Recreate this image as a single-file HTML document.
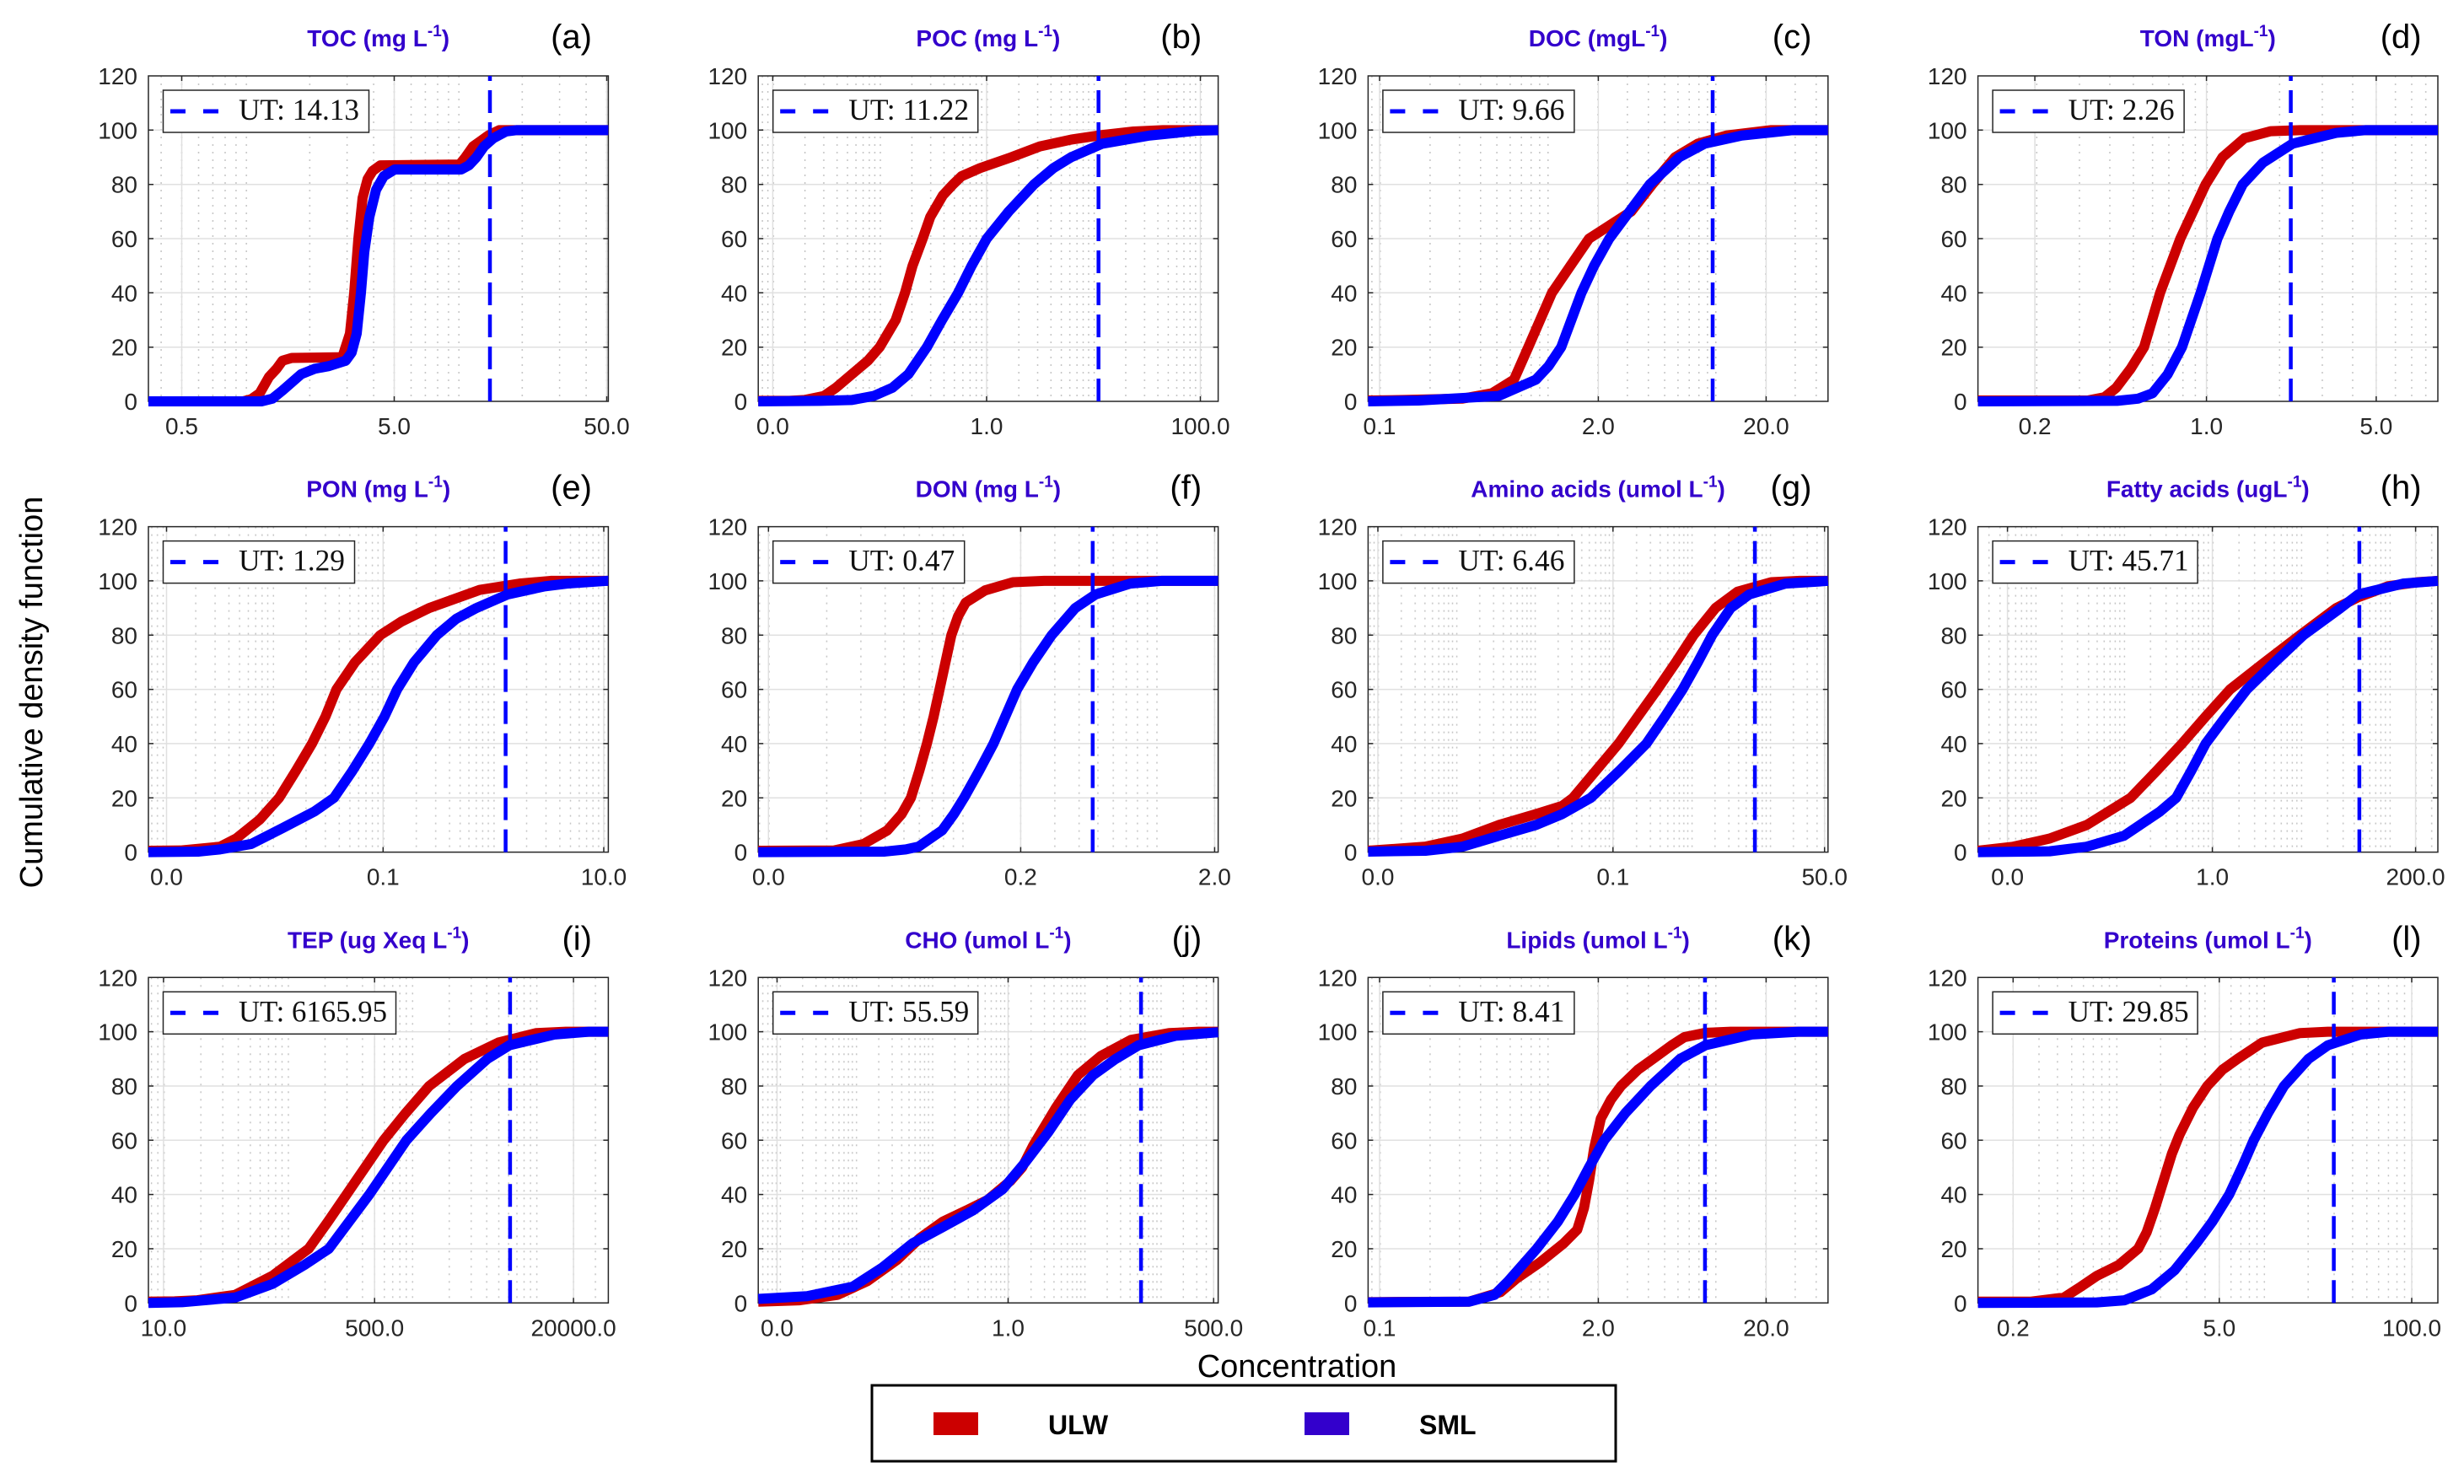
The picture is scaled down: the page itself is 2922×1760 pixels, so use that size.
<!DOCTYPE html>
<html><head><meta charset="utf-8"><style>
html,body{margin:0;padding:0;background:#fff;}
svg{display:block;}
.tk{font-family:"Liberation Sans",sans-serif;font-size:28px;fill:#262626;}
.ti{font-family:"Liberation Sans",sans-serif;font-size:28px;font-weight:bold;fill:#3300cc;}
.sp{font-size:19px;}
.pl{font-family:"Liberation Sans",sans-serif;font-size:40px;fill:#000;}
.uttx{font-family:"Liberation Serif",serif;font-size:36px;fill:#111;}
.mg{stroke:#e0e0e0;stroke-width:1.5;fill:none;}
.ax{stroke:#262626;stroke-width:1.5;fill:none;}
.r{fill:none;stroke:#cc0000;stroke-width:12;stroke-linejoin:round;stroke-linecap:butt;}
.b{fill:none;stroke:#0000ff;stroke-width:12;stroke-linejoin:round;stroke-linecap:butt;}
.ut{stroke:#0000ff;stroke-width:4.5;stroke-dasharray:27 11;stroke-dashoffset:21;}
.lg{fill:#fff;stroke:#262626;stroke-width:1.5;}
.ld{stroke:#0000ff;stroke-width:5;stroke-dasharray:18 21;}
.dt{stroke:#c4c4c4;stroke-width:1.5;stroke-dasharray:2 7;fill:none;}
.big{font-family:"Liberation Sans",sans-serif;font-size:38px;fill:#000;}
.lgt{font-family:"Liberation Sans",sans-serif;font-size:32px;font-weight:bold;fill:#000;}
</style></head><body>
<svg width="2922" height="1760" viewBox="0 0 2922 1760" xmlns="http://www.w3.org/2000/svg">
<defs>
<pattern id="ga" patternUnits="userSpaceOnUse" x="115.4" y="0" width="252" height="386"><path class="dt" d="M0.8 0V386M75.9 0V386M120.2 0V386M151.7 0V386M176.1 0V386M196.1 0V386M213 0V386M227.6 0V386M240.5 0V386"/></pattern>
<pattern id="gb" patternUnits="userSpaceOnUse" x="270.8" y="0" width="126.8" height="386"><path class="dt" d="M0.8 0V386M38.2 0V386M60.5 0V386M76.3 0V386M88.6 0V386M98.7 0V386M107.2 0V386M114.5 0V386M121 0V386"/></pattern>
<pattern id="gc" patternUnits="userSpaceOnUse" x="212.6" y="0" width="199" height="386"><path class="dt" d="M0.8 0V386M59.9 0V386M94.9 0V386M119.8 0V386M139.1 0V386M154.9 0V386M168.2 0V386M179.7 0V386M189.9 0V386"/></pattern>
<pattern id="gd" patternUnits="userSpaceOnUse" x="271" y="0" width="288" height="386"><path class="dt" d="M0.8 0V386M86.7 0V386M137.4 0V386M173.4 0V386M201.3 0V386M224.1 0V386M243.4 0V386M260.1 0V386M274.8 0V386"/></pattern>
<pattern id="ge" patternUnits="userSpaceOnUse" x="278.3" y="0" width="130.8" height="386"><path class="dt" d="M0.8 0V386M39.4 0V386M62.4 0V386M78.8 0V386M91.4 0V386M101.8 0V386M110.5 0V386M118.1 0V386M124.8 0V386"/></pattern>
<pattern id="gf" patternUnits="userSpaceOnUse" x="472" y="0" width="230" height="386"><path class="dt" d="M0.8 0V386M69.2 0V386M109.7 0V386M138.5 0V386M160.8 0V386M179 0V386M194.4 0V386M207.7 0V386M219.5 0V386"/></pattern>
<pattern id="gg" patternUnits="userSpaceOnUse" x="290.4" y="0" width="93" height="386"><path class="dt" d="M0.8 0V386M28 0V386M44.4 0V386M56 0V386M65 0V386M72.4 0V386M78.6 0V386M84 0V386M88.7 0V386"/></pattern>
<pattern id="gh" patternUnits="userSpaceOnUse" x="278" y="0" width="105" height="386"><path class="dt" d="M0.8 0V386M31.6 0V386M50.1 0V386M63.2 0V386M73.4 0V386M81.7 0V386M88.7 0V386M94.8 0V386M100.2 0V386"/></pattern>
<pattern id="gi" patternUnits="userSpaceOnUse" x="17.9" y="0" width="147.3" height="386"><path class="dt" d="M0.8 0V386M44.3 0V386M70.3 0V386M88.7 0V386M103 0V386M114.6 0V386M124.5 0V386M133 0V386M140.6 0V386"/></pattern>
<pattern id="gj" patternUnits="userSpaceOnUse" x="296.3" y="0" width="90.3" height="386"><path class="dt" d="M0.8 0V386M27.2 0V386M43.1 0V386M54.4 0V386M63.1 0V386M70.3 0V386M76.3 0V386M81.5 0V386M86.2 0V386"/></pattern>
<pattern id="gl" patternUnits="userSpaceOnUse" x="163.9" y="0" width="175" height="386"><path class="dt" d="M0.8 0V386M52.7 0V386M83.5 0V386M105.4 0V386M122.3 0V386M136.2 0V386M147.9 0V386M158 0V386M167 0V386"/></pattern>
</defs>
<rect width="2922" height="1760" fill="#fff"/>

<!-- ============ (a) ============ -->
<g transform="translate(176,90)">
<rect width="545.4" height="386" fill="url(#ga)"/>
<path class="mg" d="M39.5 0V386M291.5 0V386M543.5 0V386M0 321.7H545.4M0 257.3H545.4M0 193H545.4M0 128.7H545.4M0 64.3H545.4"/>
<path class="ax" d="M0 0H545.4V386H0Z M0 321.7h6M0 257.3h6M0 193h6M0 128.7h6M0 64.3h6M545.4 321.7h-6M545.4 257.3h-6M545.4 193h-6M545.4 128.7h-6M545.4 64.3h-6M39.5 386v-6M291.5 386v-6M543.5 386v-6M39.5 0v6M291.5 0v6M543.5 0v6"/>
<g transform="translate(0,386) scale(1,-3.2167)">
<polyline class="r" vector-effect="non-scaling-stroke" points="0,0 112,0 122,0.8 132,3 143,9 152,12 159,15 170,16 230,16.3 239,25 244,40 249,60 254,75 260,82 266,85 275,87 369,87.3 376,90 385,94 394,96 403,98 416,100 545.4,100"/>
<polyline class="b" vector-effect="non-scaling-stroke" points="0,0 134,0 147,1 159,4 170,7 181,10 197,12 214,13 234,15 241,18 247,25 252,40 256,55 262,68 270,78 279,83 292,85.5 371,85.5 380,87 389,90 398,94 409,97 424,99.5 437,100 545.4,100"/>
</g>
<line class="ut" x1="405" y1="0" x2="405" y2="386"/>
<rect class="lg" x="17.5" y="17" width="244" height="50"/>
<line class="ld" x1="26" y1="42" x2="83" y2="42"/>
<text class="uttx" x="107" y="52" textLength="143" lengthAdjust="spacingAndGlyphs">UT: 14.13</text>
<text class="ti" x="272.7" y="-35" text-anchor="middle">TOC (mg L<tspan class="sp" dy="-12">-1</tspan><tspan dy="12">)</tspan></text>
<text class="pl" x="526" y="-33" text-anchor="end">(a)</text>
<g class="tk" text-anchor="end"><text x="-13" y="396">0</text><text x="-13" y="331.7">20</text><text x="-13" y="267.3">40</text><text x="-13" y="203">60</text><text x="-13" y="138.7">80</text><text x="-13" y="74.3">100</text><text x="-13" y="10">120</text></g>
<g class="tk" text-anchor="middle"><text x="39.5" y="425">0.5</text><text x="291.5" y="425">5.0</text><text x="543.5" y="425">50.0</text></g>
</g>

<!-- ============ (b) ============ -->
<g transform="translate(899.2,90)">
<rect width="545.4" height="386" fill="url(#gb)"/>
<path class="mg" d="M17.2 0V386M270.8 0V386M524.3 0V386M0 321.7H545.4M0 257.3H545.4M0 193H545.4M0 128.7H545.4M0 64.3H545.4"/>
<path class="ax" d="M0 0H545.4V386H0Z M0 321.7h6M0 257.3h6M0 193h6M0 128.7h6M0 64.3h6M545.4 321.7h-6M545.4 257.3h-6M545.4 193h-6M545.4 128.7h-6M545.4 64.3h-6M17.2 386v-6M270.8 386v-6M524.3 386v-6M17.2 0v6M270.8 0v6M524.3 0v6"/>
<g transform="translate(0,386) scale(1,-3.2167)">
<polyline class="r" vector-effect="non-scaling-stroke" points="0,0.2 37,0.2 55,0.5 78,2 92,5 111,10 130,15 144,20 163,30 174,40 183,50 195,60 204,68 219,76 231,80 241,83 263,86 300,90 334,94 371,96.5 403,98 445,99.5 480,100 545.4,100"/>
<polyline class="b" vector-effect="non-scaling-stroke" points="0,0 74,0.2 111,0.5 137,2 159,5 178,10 200,20 218,30 237,40 253,50 271,60 297,70 327,80 350,86 371,90 408,95 464,98 520,99.8 545.4,100"/>
</g>
<line class="ut" x1="403.5" y1="0" x2="403.5" y2="386"/>
<rect class="lg" x="17.5" y="17" width="243" height="50"/>
<line class="ld" x1="26" y1="42" x2="83" y2="42"/>
<text class="uttx" x="107" y="52" textLength="143" lengthAdjust="spacingAndGlyphs">UT: 11.22</text>
<text class="ti" x="272.7" y="-35" text-anchor="middle">POC (mg L<tspan class="sp" dy="-12">-1</tspan><tspan dy="12">)</tspan></text>
<text class="pl" x="526" y="-33" text-anchor="end">(b)</text>
<g class="tk" text-anchor="end"><text x="-13" y="396">0</text><text x="-13" y="331.7">20</text><text x="-13" y="267.3">40</text><text x="-13" y="203">60</text><text x="-13" y="138.7">80</text><text x="-13" y="74.3">100</text><text x="-13" y="10">120</text></g>
<g class="tk" text-anchor="middle"><text x="17.2" y="425">0.0</text><text x="270.8" y="425">1.0</text><text x="524.3" y="425">100.0</text></g>
</g>

<!-- ============ (c) ============ -->
<g transform="translate(1622.4,90)">
<rect width="545.4" height="386" fill="url(#gc)"/>
<path class="mg" d="M13.6 0V386M273 0V386M472 0V386M0 321.7H545.4M0 257.3H545.4M0 193H545.4M0 128.7H545.4M0 64.3H545.4"/>
<path class="ax" d="M0 0H545.4V386H0Z M0 321.7h6M0 257.3h6M0 193h6M0 128.7h6M0 64.3h6M545.4 321.7h-6M545.4 257.3h-6M545.4 193h-6M545.4 128.7h-6M545.4 64.3h-6M13.6 386v-6M273 386v-6M472 386v-6M13.6 0v6M273 0v6M472 0v6"/>
<g transform="translate(0,386) scale(1,-3.2167)">
<polyline class="r" vector-effect="non-scaling-stroke" points="0,0.3 42,0.5 112,1 147,3 173,8 190,20 204,30 218,40 240,50 262,60 282,64 312,70 337,80 364,90 391,95 425,98 478,100 545.4,100"/>
<polyline class="b" vector-effect="non-scaling-stroke" points="0,0 60,0.3 155,2 199,8 214,13 229,20 241,30 253,40 268,50 286,60 310,70 334,80 369,90 399,95 443,98 504,100 545.4,100"/>
</g>
<line class="ut" x1="408.6" y1="0" x2="408.6" y2="386"/>
<rect class="lg" x="17.5" y="17" width="227" height="50"/>
<line class="ld" x1="26" y1="42" x2="83" y2="42"/>
<text class="uttx" x="107" y="52" textLength="126" lengthAdjust="spacingAndGlyphs">UT: 9.66</text>
<text class="ti" x="272.7" y="-35" text-anchor="middle">DOC (mgL<tspan class="sp" dy="-12">-1</tspan><tspan dy="12">)</tspan></text>
<text class="pl" x="526" y="-33" text-anchor="end">(c)</text>
<g class="tk" text-anchor="end"><text x="-13" y="396">0</text><text x="-13" y="331.7">20</text><text x="-13" y="267.3">40</text><text x="-13" y="203">60</text><text x="-13" y="138.7">80</text><text x="-13" y="74.3">100</text><text x="-13" y="10">120</text></g>
<g class="tk" text-anchor="middle"><text x="13.6" y="425">0.1</text><text x="273" y="425">2.0</text><text x="472" y="425">20.0</text></g>
</g>

<!-- ============ (d) ============ -->
<g transform="translate(2345.6,90)">
<rect width="545.4" height="386" fill="url(#gd)"/>
<path class="mg" d="M67.5 0V386M271 0V386M472.3 0V386M0 321.7H545.4M0 257.3H545.4M0 193H545.4M0 128.7H545.4M0 64.3H545.4"/>
<path class="ax" d="M0 0H545.4V386H0Z M0 321.7h6M0 257.3h6M0 193h6M0 128.7h6M0 64.3h6M545.4 321.7h-6M545.4 257.3h-6M545.4 193h-6M545.4 128.7h-6M545.4 64.3h-6M67.5 386v-6M271 386v-6M472.3 386v-6M67.5 0v6M271 0v6M472.3 0v6"/>
<g transform="translate(0,386) scale(1,-3.2167)">
<polyline class="r" vector-effect="non-scaling-stroke" points="0,0.3 130,0.3 150,1.5 164,5 181,12 197,20 216,40 240,60 255,70 270,80 290,90 316,97 347,99.6 382,100 545.4,100"/>
<polyline class="b" vector-effect="non-scaling-stroke" points="0,0 165,0.2 190,1 207,3 225,10 242,20 264,40 284,60 298,70 314,80 338,88 373,95 425,99 460,100 545.4,100"/>
</g>
<line class="ut" x1="371" y1="0" x2="371" y2="386"/>
<rect class="lg" x="17.5" y="17" width="227" height="50"/>
<line class="ld" x1="26" y1="42" x2="83" y2="42"/>
<text class="uttx" x="107" y="52" textLength="126" lengthAdjust="spacingAndGlyphs">UT: 2.26</text>
<text class="ti" x="272.7" y="-35" text-anchor="middle">TON (mgL<tspan class="sp" dy="-12">-1</tspan><tspan dy="12">)</tspan></text>
<text class="pl" x="526" y="-33" text-anchor="end">(d)</text>
<g class="tk" text-anchor="end"><text x="-13" y="396">0</text><text x="-13" y="331.7">20</text><text x="-13" y="267.3">40</text><text x="-13" y="203">60</text><text x="-13" y="138.7">80</text><text x="-13" y="74.3">100</text><text x="-13" y="10">120</text></g>
<g class="tk" text-anchor="middle"><text x="67.5" y="425">0.2</text><text x="271" y="425">1.0</text><text x="472.3" y="425">5.0</text></g>
</g>

<!-- ============ (e) ============ -->
<g transform="translate(176,624.6)">
<rect width="545.4" height="386" fill="url(#ge)"/>
<path class="mg" d="M21.5 0V386M278.3 0V386M540 0V386M0 321.7H545.4M0 257.3H545.4M0 193H545.4M0 128.7H545.4M0 64.3H545.4"/>
<path class="ax" d="M0 0H545.4V386H0Z M0 321.7h6M0 257.3h6M0 193h6M0 128.7h6M0 64.3h6M545.4 321.7h-6M545.4 257.3h-6M545.4 193h-6M545.4 128.7h-6M545.4 64.3h-6M21.5 386v-6M278.3 386v-6M540 386v-6M21.5 0v6M278.3 0v6M540 0v6"/>
<g transform="translate(0,386) scale(1,-3.2167)">
<polyline class="r" vector-effect="non-scaling-stroke" points="0,0.5 38,0.6 85,2 104,5 132,12 155,20 175,30 194,40 210,50 223,60 245,70 275,80 300,85 333,90 393,96.7 440,99 477,100 545.4,100"/>
<polyline class="b" vector-effect="non-scaling-stroke" points="0,0 60,0.2 85,1 122,3 160,9 197,15 220,20 242,30 262,40 280,50 295,60 315,70 342,80 365,86 389,90 426,95 470,98 496,99 543,100 545.4,100"/>
</g>
<line class="ut" x1="423.6" y1="0" x2="423.6" y2="386"/>
<rect class="lg" x="17.5" y="17" width="227" height="50"/>
<line class="ld" x1="26" y1="42" x2="83" y2="42"/>
<text class="uttx" x="107" y="52" textLength="126" lengthAdjust="spacingAndGlyphs">UT: 1.29</text>
<text class="ti" x="272.7" y="-35" text-anchor="middle">PON (mg L<tspan class="sp" dy="-12">-1</tspan><tspan dy="12">)</tspan></text>
<text class="pl" x="526" y="-33" text-anchor="end">(e)</text>
<g class="tk" text-anchor="end"><text x="-13" y="396">0</text><text x="-13" y="331.7">20</text><text x="-13" y="267.3">40</text><text x="-13" y="203">60</text><text x="-13" y="138.7">80</text><text x="-13" y="74.3">100</text><text x="-13" y="10">120</text></g>
<g class="tk" text-anchor="middle"><text x="21.5" y="425">0.0</text><text x="278.3" y="425">0.1</text><text x="540" y="425">10.0</text></g>
</g>

<!-- ============ (f) ============ -->
<g transform="translate(899.2,624.6)">
<rect width="545.4" height="386" fill="url(#gf)"/>
<path class="mg" d="M12.1 0V386M311.2 0V386M541.2 0V386M0 321.7H545.4M0 257.3H545.4M0 193H545.4M0 128.7H545.4M0 64.3H545.4"/>
<path class="ax" d="M0 0H545.4V386H0Z M0 321.7h6M0 257.3h6M0 193h6M0 128.7h6M0 64.3h6M545.4 321.7h-6M545.4 257.3h-6M545.4 193h-6M545.4 128.7h-6M545.4 64.3h-6M12.1 386v-6M311.2 386v-6M541.2 386v-6M12.1 0v6M311.2 0v6M541.2 0v6"/>
<g transform="translate(0,386) scale(1,-3.2167)">
<polyline class="r" vector-effect="non-scaling-stroke" points="0,0.5 90,0.6 125,3 153,8 170,14 181,20 191,30 200,40 208,50 215,60 222,70 229,80 237,87 246,92 269,96.5 302,99.5 339,100 545.4,100"/>
<polyline class="b" vector-effect="non-scaling-stroke" points="0,0 150,0.2 175,1 190,2 218,8 232,14 244,20 262,30 279,40 293,50 307,60 326,70 348,80 376,90 400,95 441,99 478,100 545.4,100"/>
</g>
<line class="ut" x1="396.6" y1="0" x2="396.6" y2="386"/>
<rect class="lg" x="17.5" y="17" width="227" height="50"/>
<line class="ld" x1="26" y1="42" x2="83" y2="42"/>
<text class="uttx" x="107" y="52" textLength="126" lengthAdjust="spacingAndGlyphs">UT: 0.47</text>
<text class="ti" x="272.7" y="-35" text-anchor="middle">DON (mg L<tspan class="sp" dy="-12">-1</tspan><tspan dy="12">)</tspan></text>
<text class="pl" x="526" y="-33" text-anchor="end">(f)</text>
<g class="tk" text-anchor="end"><text x="-13" y="396">0</text><text x="-13" y="331.7">20</text><text x="-13" y="267.3">40</text><text x="-13" y="203">60</text><text x="-13" y="138.7">80</text><text x="-13" y="74.3">100</text><text x="-13" y="10">120</text></g>
<g class="tk" text-anchor="middle"><text x="12.1" y="425">0.0</text><text x="311.2" y="425">0.2</text><text x="541.2" y="425">2.0</text></g>
</g>

<!-- ============ (g) ============ -->
<g transform="translate(1622.4,624.6)">
<rect width="545.4" height="386" fill="url(#gg)"/>
<path class="mg" d="M11.6 0V386M290.4 0V386M541.3 0V386M0 321.7H545.4M0 257.3H545.4M0 193H545.4M0 128.7H545.4M0 64.3H545.4"/>
<path class="ax" d="M0 0H545.4V386H0Z M0 321.7h6M0 257.3h6M0 193h6M0 128.7h6M0 64.3h6M545.4 321.7h-6M545.4 257.3h-6M545.4 193h-6M545.4 128.7h-6M545.4 64.3h-6M11.6 386v-6M290.4 386v-6M541.3 386v-6M11.6 0v6M290.4 0v6M541.3 0v6"/>
<g transform="translate(0,386) scale(1,-3.2167)">
<polyline class="r" vector-effect="non-scaling-stroke" points="0,0.5 68,2 112,5 155,10 199,14 230,17 243,20 270,30 297,40 320,50 343,60 365,70 386,80 412,90 438,96 478,99.5 512,100 545.4,100"/>
<polyline class="b" vector-effect="non-scaling-stroke" points="0,0.2 68,0.5 112,2 155,6 199,10 230,14 264,20 298,30 330,40 352,50 373,60 391,70 408,80 430,90 452,95 495,99 545.4,100"/>
</g>
<line class="ut" x1="458.7" y1="0" x2="458.7" y2="386"/>
<rect class="lg" x="17.5" y="17" width="227" height="50"/>
<line class="ld" x1="26" y1="42" x2="83" y2="42"/>
<text class="uttx" x="107" y="52" textLength="126" lengthAdjust="spacingAndGlyphs">UT: 6.46</text>
<text class="ti" x="272.7" y="-35" text-anchor="middle">Amino acids (umol L<tspan class="sp" dy="-12">-1</tspan><tspan dy="12">)</tspan></text>
<text class="pl" x="526" y="-33" text-anchor="end">(g)</text>
<g class="tk" text-anchor="end"><text x="-13" y="396">0</text><text x="-13" y="331.7">20</text><text x="-13" y="267.3">40</text><text x="-13" y="203">60</text><text x="-13" y="138.7">80</text><text x="-13" y="74.3">100</text><text x="-13" y="10">120</text></g>
<g class="tk" text-anchor="middle"><text x="11.6" y="425">0.0</text><text x="290.4" y="425">0.1</text><text x="541.3" y="425">50.0</text></g>
</g>

<!-- ============ (h) ============ -->
<g transform="translate(2345.6,624.6)">
<rect width="545.4" height="386" fill="url(#gh)"/>
<path class="mg" d="M35 0V386M278 0V386M519 0V386M0 321.7H545.4M0 257.3H545.4M0 193H545.4M0 128.7H545.4M0 64.3H545.4"/>
<path class="ax" d="M0 0H545.4V386H0Z M0 321.7h6M0 257.3h6M0 193h6M0 128.7h6M0 64.3h6M545.4 321.7h-6M545.4 257.3h-6M545.4 193h-6M545.4 128.7h-6M545.4 64.3h-6M35 386v-6M278 386v-6M519 386v-6M35 0v6M278 0v6M519 0v6"/>
<g transform="translate(0,386) scale(1,-3.2167)">
<polyline class="r" vector-effect="non-scaling-stroke" points="0,0.5 42,2 85,5 129,10 181,20 212,30 242,40 270,50 299,60 340,70 382,80 425,90 451,94 486,98 521,99.5 545.4,100"/>
<polyline class="b" vector-effect="non-scaling-stroke" points="0,0 85,0.3 129,2 173,6 216,15 235,20 253,30 270,40 294,50 319,60 352,70 386,80 430,90 451,95 504,99 545.4,100"/>
</g>
<line class="ut" x1="452.3" y1="0" x2="452.3" y2="386"/>
<rect class="lg" x="17.5" y="17" width="243" height="50"/>
<line class="ld" x1="26" y1="42" x2="83" y2="42"/>
<text class="uttx" x="107" y="52" textLength="143" lengthAdjust="spacingAndGlyphs">UT: 45.71</text>
<text class="ti" x="272.7" y="-35" text-anchor="middle">Fatty acids (ugL<tspan class="sp" dy="-12">-1</tspan><tspan dy="12">)</tspan></text>
<text class="pl" x="526" y="-33" text-anchor="end">(h)</text>
<g class="tk" text-anchor="end"><text x="-13" y="396">0</text><text x="-13" y="331.7">20</text><text x="-13" y="267.3">40</text><text x="-13" y="203">60</text><text x="-13" y="138.7">80</text><text x="-13" y="74.3">100</text><text x="-13" y="10">120</text></g>
<g class="tk" text-anchor="middle"><text x="35" y="425">0.0</text><text x="278" y="425">1.0</text><text x="519" y="425">200.0</text></g>
</g>

<!-- ============ (i) ============ -->
<g transform="translate(176,1159.3)">
<rect width="545.4" height="386" fill="url(#gi)"/>
<path class="mg" d="M17.9 0V386M268.2 0V386M504.1 0V386M0 321.7H545.4M0 257.3H545.4M0 193H545.4M0 128.7H545.4M0 64.3H545.4"/>
<path class="ax" d="M0 0H545.4V386H0Z M0 321.7h6M0 257.3h6M0 193h6M0 128.7h6M0 64.3h6M545.4 321.7h-6M545.4 257.3h-6M545.4 193h-6M545.4 128.7h-6M545.4 64.3h-6M17.9 386v-6M268.2 386v-6M504.1 386v-6M17.9 0v6M268.2 0v6M504.1 0v6"/>
<g transform="translate(0,386) scale(1,-3.2167)">
<polyline class="r" vector-effect="non-scaling-stroke" points="0,0.5 31,0.6 58,1 103,3 147,10 190,20 213,30 235,40 257,50 279,60 305,70 333,80 354,85 375,90 415,96 460,99.5 495,100 545.4,100"/>
<polyline class="b" vector-effect="non-scaling-stroke" points="0,0 40,0.3 103,2 147,7 185,14 214,20 238,30 262,40 284,50 306,60 335,70 366,80 402,90 428,95 482,99 522,100 545.4,100"/>
</g>
<line class="ut" x1="428.9" y1="0" x2="428.9" y2="386"/>
<rect class="lg" x="17.5" y="17" width="276" height="50"/>
<line class="ld" x1="26" y1="42" x2="83" y2="42"/>
<text class="uttx" x="107" y="52" textLength="176" lengthAdjust="spacingAndGlyphs">UT: 6165.95</text>
<text class="ti" x="272.7" y="-35" text-anchor="middle">TEP (ug Xeq L<tspan class="sp" dy="-12">-1</tspan><tspan dy="12">)</tspan></text>
<text class="pl" x="526" y="-33" text-anchor="end">(i)</text>
<g class="tk" text-anchor="end"><text x="-13" y="396">0</text><text x="-13" y="331.7">20</text><text x="-13" y="267.3">40</text><text x="-13" y="203">60</text><text x="-13" y="138.7">80</text><text x="-13" y="74.3">100</text><text x="-13" y="10">120</text></g>
<g class="tk" text-anchor="middle"><text x="17.9" y="425">10.0</text><text x="268.2" y="425">500.0</text><text x="504.1" y="425">20000.0</text></g>
</g>

<!-- ============ (j) ============ -->
<g transform="translate(899.2,1159.3)">
<rect width="545.4" height="386" fill="url(#gj)"/>
<path class="mg" d="M22.3 0V386M296.3 0V386M540 0V386M0 321.7H545.4M0 257.3H545.4M0 193H545.4M0 128.7H545.4M0 64.3H545.4"/>
<path class="ax" d="M0 0H545.4V386H0Z M0 321.7h6M0 257.3h6M0 193h6M0 128.7h6M0 64.3h6M545.4 321.7h-6M545.4 257.3h-6M545.4 193h-6M545.4 128.7h-6M545.4 64.3h-6M22.3 386v-6M296.3 386v-6M540 386v-6M22.3 0v6M296.3 0v6M540 0v6"/>
<g transform="translate(0,386) scale(1,-3.2167)">
<polyline class="r" vector-effect="non-scaling-stroke" points="0,0.5 49,1 94,3 129,8 165,16 192,24 219,30 246,34 272,38 299,45 313,50 326,58 353,72 379,84 406,91 442,97 487,99.5 522,100 545.4,100"/>
<polyline class="b" vector-effect="non-scaling-stroke" points="0,1.5 58,2.5 112,6 147,13 183,22 219,28 254,34 290,42 317,52 344,63 370,75 397,84 424,90 451,95 495,98.5 540,99.7 545.4,99.8"/>
</g>
<line class="ut" x1="453.9" y1="0" x2="453.9" y2="386"/>
<rect class="lg" x="17.5" y="17" width="243" height="50"/>
<line class="ld" x1="26" y1="42" x2="83" y2="42"/>
<text class="uttx" x="107" y="52" textLength="143" lengthAdjust="spacingAndGlyphs">UT: 55.59</text>
<text class="ti" x="272.7" y="-35" text-anchor="middle">CHO (umol L<tspan class="sp" dy="-12">-1</tspan><tspan dy="12">)</tspan></text>
<text class="pl" x="526" y="-33" text-anchor="end">(j)</text>
<g class="tk" text-anchor="end"><text x="-13" y="396">0</text><text x="-13" y="331.7">20</text><text x="-13" y="267.3">40</text><text x="-13" y="203">60</text><text x="-13" y="138.7">80</text><text x="-13" y="74.3">100</text><text x="-13" y="10">120</text></g>
<g class="tk" text-anchor="middle"><text x="22.3" y="425">0.0</text><text x="296.3" y="425">1.0</text><text x="540" y="425">500.0</text></g>
</g>

<!-- ============ (k) ============ -->
<g transform="translate(1622.4,1159.3)">
<rect width="545.4" height="386" fill="url(#gc)"/>
<path class="mg" d="M13.6 0V386M273 0V386M472 0V386M0 321.7H545.4M0 257.3H545.4M0 193H545.4M0 128.7H545.4M0 64.3H545.4"/>
<path class="ax" d="M0 0H545.4V386H0Z M0 321.7h6M0 257.3h6M0 193h6M0 128.7h6M0 64.3h6M545.4 321.7h-6M545.4 257.3h-6M545.4 193h-6M545.4 128.7h-6M545.4 64.3h-6M13.6 386v-6M273 386v-6M472 386v-6M13.6 0v6M273 0v6M472 0v6"/>
<g transform="translate(0,386) scale(1,-3.2167)">
<polyline class="r" vector-effect="non-scaling-stroke" points="0,0.3 120,0.5 157,4 176,9 204,15 232,22 248,27 256,35 262,45 268,57 276,68 288,75 300,80 320,86 338,90 360,95 375,98 400,99.6 430,100 545.4,100"/>
<polyline class="b" vector-effect="non-scaling-stroke" points="0,0.2 120,0.5 150,3 166,8 200,20 225,30 245,40 262,50 280,60 305,70 335,80 370,90 400,95 455,99 510,100 545.4,100"/>
</g>
<line class="ut" x1="399.5" y1="0" x2="399.5" y2="386"/>
<rect class="lg" x="17.5" y="17" width="227" height="50"/>
<line class="ld" x1="26" y1="42" x2="83" y2="42"/>
<text class="uttx" x="107" y="52" textLength="126" lengthAdjust="spacingAndGlyphs">UT: 8.41</text>
<text class="ti" x="272.7" y="-35" text-anchor="middle">Lipids (umol L<tspan class="sp" dy="-12">-1</tspan><tspan dy="12">)</tspan></text>
<text class="pl" x="526" y="-33" text-anchor="end">(k)</text>
<g class="tk" text-anchor="end"><text x="-13" y="396">0</text><text x="-13" y="331.7">20</text><text x="-13" y="267.3">40</text><text x="-13" y="203">60</text><text x="-13" y="138.7">80</text><text x="-13" y="74.3">100</text><text x="-13" y="10">120</text></g>
<g class="tk" text-anchor="middle"><text x="13.6" y="425">0.1</text><text x="273" y="425">2.0</text><text x="472" y="425">20.0</text></g>
</g>

<!-- ============ (l) ============ -->
<g transform="translate(2345.6,1159.3)">
<rect width="545.4" height="386" fill="url(#gl)"/>
<path class="mg" d="M41.7 0V386M286.2 0V386M514.4 0V386M0 321.7H545.4M0 257.3H545.4M0 193H545.4M0 128.7H545.4M0 64.3H545.4"/>
<path class="ax" d="M0 0H545.4V386H0Z M0 321.7h6M0 257.3h6M0 193h6M0 128.7h6M0 64.3h6M545.4 321.7h-6M545.4 257.3h-6M545.4 193h-6M545.4 128.7h-6M545.4 64.3h-6M41.7 386v-6M286.2 386v-6M514.4 386v-6M41.7 0v6M286.2 0v6M514.4 0v6"/>
<g transform="translate(0,386) scale(1,-3.2167)">
<polyline class="r" vector-effect="non-scaling-stroke" points="0,0.5 63,0.5 102,2 122,6 141,10 167,14 190,20 200,26 210,35 220,45 230,55 239,62 255,72 272,80 290,86 308,90 337,96 382,99.5 415,100 545.4,100"/>
<polyline class="b" vector-effect="non-scaling-stroke" points="0,0 141,0.2 174,1 206,5 233,12 259,22 278,30 298,40 313,50 327,60 344,70 363,80 392,90 415,95 454,99 487,100 545.4,100"/>
</g>
<line class="ut" x1="422" y1="0" x2="422" y2="386"/>
<rect class="lg" x="17.5" y="17" width="243" height="50"/>
<line class="ld" x1="26" y1="42" x2="83" y2="42"/>
<text class="uttx" x="107" y="52" textLength="143" lengthAdjust="spacingAndGlyphs">UT: 29.85</text>
<text class="ti" x="272.7" y="-35" text-anchor="middle">Proteins (umol L<tspan class="sp" dy="-12">-1</tspan><tspan dy="12">)</tspan></text>
<text class="pl" x="526" y="-33" text-anchor="end">(l)</text>
<g class="tk" text-anchor="end"><text x="-13" y="396">0</text><text x="-13" y="331.7">20</text><text x="-13" y="267.3">40</text><text x="-13" y="203">60</text><text x="-13" y="138.7">80</text><text x="-13" y="74.3">100</text><text x="-13" y="10">120</text></g>
<g class="tk" text-anchor="middle"><text x="41.7" y="425">0.2</text><text x="286.2" y="425">5.0</text><text x="514.4" y="425">100.0</text></g>
</g>

<!-- axis labels -->
<text class="big" x="1538" y="1633" text-anchor="middle">Concentration</text>
<text class="big" transform="translate(50,821) rotate(-90)" text-anchor="middle">Cumulative density function</text>

<!-- bottom legend -->
<rect x="1034" y="1643" width="882" height="90" fill="#fff" stroke="#000" stroke-width="3"/>
<rect x="1107" y="1675" width="53" height="27" fill="#cc0000"/>
<text class="lgt" x="1243" y="1701">ULW</text>
<rect x="1547" y="1675" width="53" height="27" fill="#3300cc"/>
<text class="lgt" x="1683" y="1701">SML</text>
</svg>
</body></html>
